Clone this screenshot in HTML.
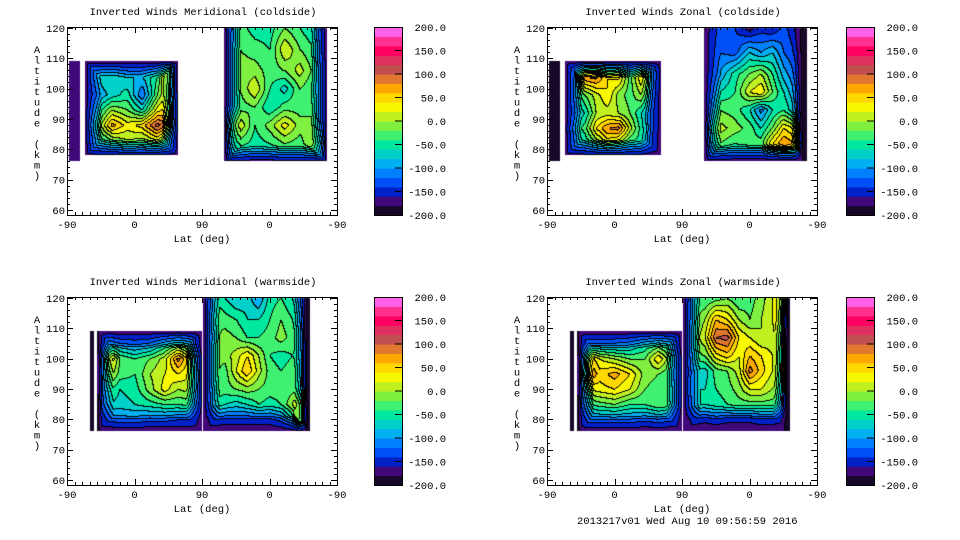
<!DOCTYPE html>
<html><head><meta charset="utf-8">
<style>
html,body{margin:0;padding:0;background:#fff;}
#root{position:relative;width:960px;height:540px;overflow:hidden;background:#fff;}
canvas{position:absolute;}
svg{position:absolute;left:0;top:0;}
text{font-family:"Liberation Mono",monospace;font-size:10.5px;fill:#000;}
</style></head>
<body>
<div id="root">
<svg id="ov" width="960" height="540"></svg>
</div>
<script>
// ---- data ----
const colorLevels = ["#180828","#400878","#0020c8","#0050f8","#0080ff","#00b0f0","#00d0c8","#00e8a0","#40f070","#80f040","#c0f020","#f8f800","#ffd800","#ffa800","#e07830","#c05050","#e03060","#ff0060","#ff3090","#ff60e8"];
const colorbarTicks = [200,150,100,50,0,-50,-100,-150,-200];
const xTickLabels = ["-90","0","90","0","-90"];
const yTickLabels = [120,110,100,90,80,70,60];

// Panel 1: Meridional coldside
const p1StripCols=[3,17], p1StripRows=[109,76];
const p1StripVals=[[-150,-150],[-150,-150]];
const p1ACols=[24,40,60,80,100,120,135,148], p1ARows=[109,104,98,93,88,83,78];
const p1AVals=[
[-80,-80,-70,-90,-90,-60,40,-120],
[-70,-70,-60,-80,-80,-40,60,-100],
[-100,-100,-70,-50,-120,-20,40,-80],
[-60,-60,0,-20,-60,30,60,-60],
[-20,-20,70,30,50,110,80,-40],
[-60,-60,-20,0,-10,20,-40,-100],
[-80,-80,-60,-40,-50,-40,-80,-120]];
const p1BCols=[210,216,230,250,270,290,310,330,340,346], p1BRows=[120,113,106,100,94,88,82,76];
const p1BVals=[
[-40,-40,-30,-50,-50,-20,-40,-60,-100,-120],
[-30,-30,-20,-30,-40,20,-20,-40,-80,-110],
[-20,-20,-10,-10,-30,-20,10,-30,-60,-100],
[-30,-30,-20,20,-40,-70,-20,-40,-50,-100],
[-10,-10,-30,-20,-60,-30,-30,-30,-60,-100],
[120,120,20,-40,-10,30,-10,-10,-40,-100],
[60,60,-30,-50,-40,-20,-30,10,60,-60],
[-60,-60,-80,-90,-90,-80,-80,-60,-40,-80]];

// Panel 2: Zonal coldside
const p2StripCols=[3,17], p2StripRows=[109,76];
const p2StripVals=[[-190,-190],[-190,-190]];
const p2ACols=[24,35,50,65,80,95,110,125,140,152], p2ARows=[109,104,98,92,87,82,78];
const p2AVals=[
[-90,-90,60,70,30,40,-40,30,-70,-120],
[-80,-80,80,90,40,50,-30,40,-60,-110],
[-70,-70,-20,10,40,-10,-30,0,-80,-120],
[-90,-90,-60,0,10,0,-20,-60,-110,-130],
[-60,-60,-30,40,80,90,10,-50,-110,-130],
[-80,-80,-60,-20,20,0,-40,-50,-120,-140],
[-100,-100,-80,-50,-30,-40,-60,-70,-130,-150]];
const p2BCols=[210,216,230,250,270,285,300,315,330,340,347], p2BRows=[120,112,105,99,93,87,82,76];
const p2BVals=[
[-150,-130,-130,-140,-170,-150,-160,-130,-160,-190,-190],
[-140,-120,-120,-130,-80,-100,-80,-120,-140,-190,-190],
[-130,-110,-100,-50,-20,0,-40,-90,-120,-190,-190],
[-100,-80,-60,-40,20,40,-20,-60,-100,-190,-190],
[-60,-30,-20,-30,-60,-110,-60,-40,-80,-190,-190],
[0,60,10,-10,-30,-60,-20,40,20,-190,-190],
[-30,20,-20,-40,-30,-30,40,80,60,-190,-190],
[-130,-120,-120,-130,-140,-140,-130,-110,-120,-180,-190]];

// Panel 3: Meridional warmside
const p3StripCols=[31,36], p3StripRows=[109,76];
const p3StripVals=[[-200,-200],[-200,-200]];
const p3ACols=[40,46,55,70,90,110,130,148,165,180], p3ARows=[109,105,100,95,90,85,80,76];
const p3AVals=[
[-200,-120,-90,-110,-120,-110,-70,-40,-70,-150],
[-200,-110,-80,-100,-110,-100,-60,-30,-60,-150],
[-200,20,60,-20,-40,-20,10,90,20,-30],
[-200,10,20,-30,-40,0,20,40,20,10],
[-200,-10,-30,-60,-50,-10,30,0,10,0],
[-200,-40,-60,-70,-60,-50,-40,-40,-30,-50],
[-200,-120,-120,-110,-110,-120,-120,-130,-130,-140],
[-200,-150,-150,-150,-150,-150,-150,-150,-150,-160]];
const p3BCols=[182,195,210,225,240,255,270,285,300,312,320,324], p3BRows=[120,113,107,101,96,90,85,80,76];
const p3BVals=[
[-60,-40,-60,-80,-70,-100,-50,-40,-60,-100,-200,-200],
[-40,-20,-30,-40,-60,-60,-40,-20,-40,-70,-200,-200],
[-40,-30,-10,-20,-40,-40,-30,-10,-30,-60,-200,-200],
[-40,-20,-10,10,40,0,-40,-50,-40,-50,-200,-200],
[-40,-10,-30,20,60,10,-30,-40,-30,-40,-200,-200],
[-40,-30,-30,-20,-10,-20,-30,-30,-30,-20,-200,-200],
[-60,-40,-60,-70,-60,-40,-50,-40,0,60,-200,-200],
[-140,-130,-140,-140,-140,-140,-140,-120,-60,80,-200,-200],
[-160,-160,-160,-160,-160,-160,-160,-150,-120,-60,-200,-200]];

// Panel 4: Zonal warmside
const p4StripCols=[31,36], p4StripRows=[109,76];
const p4StripVals=[[-200,-200],[-200,-200]];
const p4ACols=[40,46,55,70,90,110,130,148,165,180], p4ARows=[109,105,100,95,90,85,80,76];
const p4AVals=[
[-200,-130,-110,-110,-110,-100,-70,-50,-70,-150],
[-200,-120,-100,-100,-100,-90,-60,-40,-60,-140],
[-200,10,60,20,0,-20,-20,40,-20,-50],
[-200,50,90,50,70,40,-10,-20,-40,-50],
[-200,0,20,30,40,20,-20,-30,-30,-40],
[-200,-50,-40,-30,-20,-40,-40,-20,-30,-50],
[-200,-120,-110,-110,-110,-110,-120,-110,-120,-130],
[-200,-150,-150,-150,-150,-150,-150,-150,-150,-160]];
const p4BCols=[182,195,210,225,240,255,270,285,300,312,320,324], p4BRows=[120,113,107,101,96,90,85,80,76];
const p4BVals=[
[-60,-40,-40,-30,-20,-40,-30,-10,20,90,-200,-200],
[-50,-30,0,60,40,0,-20,0,20,80,-200,-200],
[-30,-20,20,100,110,40,20,0,10,40,-200,-200],
[-40,-30,-20,30,50,20,60,40,20,20,-200,-200],
[-50,-60,-70,-30,-20,10,90,50,20,10,-200,-200],
[-30,-60,-60,-40,-30,-10,20,20,0,-10,-200,-200],
[-60,-60,-60,-50,-40,-30,-30,-30,-30,-40,-200,-200],
[-150,-140,-150,-140,-150,-150,-150,-140,-140,-150,-200,-200],
[-170,-160,-160,-160,-160,-160,-160,-160,-160,-160,-200,-200]];

// ---- layout ----
const NS="http://www.w3.org/2000/svg";
const ov=document.getElementById('ov');
const root=document.getElementById('root');
const panels=[
 {name:"meridional-coldside",title:"Inverted Winds Meridional (coldside)",x:67,y:27,w:270,h:188,cbx:374,
  blocks:[[p1StripCols,p1StripRows,p1StripVals],[p1ACols,p1ARows,p1AVals],[p1BCols,p1BRows,p1BVals]]},
 {name:"zonal-coldside",title:"Inverted Winds Zonal (coldside)",x:547,y:27,w:270,h:188,cbx:846,
  blocks:[[p2StripCols,p2StripRows,p2StripVals],[p2ACols,p2ARows,p2AVals],[p2BCols,p2BRows,p2BVals]]},
 {name:"meridional-warmside",title:"Inverted Winds Meridional (warmside)",x:67,y:297,w:270,h:188,cbx:374,
  blocks:[[p3StripCols,p3StripRows,p3StripVals],[p3ACols,p3ARows,p3AVals],[p3BCols,p3BRows,p3BVals]]},
 {name:"zonal-warmside",title:"Inverted Winds Zonal (warmside)",x:547,y:297,w:270,h:188,cbx:846,
  blocks:[[p4StripCols,p4StripRows,p4StripVals],[p4ACols,p4ARows,p4AVals],[p4BCols,p4BRows,p4BVals]]}
];
const YMIN=58.3, YMAX=120.3, FALL=16;

function mk(tag,attrs,parent){const e=document.createElementNS(NS,tag);for(const k in attrs)e.setAttribute(k,attrs[k]);(parent||ov).appendChild(e);return e;}
function hex(c){return [parseInt(c.slice(1,3),16),parseInt(c.slice(3,5),16),parseInt(c.slice(5,7),16)];}
const rgb=colorLevels.map(hex);
function levelOf(v){return Math.max(0,Math.min(19,Math.floor((v+200)/20)));}
function interp(cols,rows,vals,u,a){
  let i=0;while(i<cols.length-2&&u>cols[i+1])i++;
  let j=0;while(j<rows.length-2&&a<rows[j+1])j++;
  const tx=Math.max(0,Math.min(1,(u-cols[i])/(cols[i+1]-cols[i]))), ty=Math.max(0,Math.min(1,(rows[j]-a)/(rows[j]-rows[j+1])));
  const v00=vals[j][i],v01=vals[j][i+1],v10=vals[j+1][i],v11=vals[j+1][i+1];
  return (v00*(1-tx)+v01*tx)*(1-ty)+(v10*(1-tx)+v11*tx)*ty;
}

panels.forEach(p=>{
  const xs=u=>p.x+u/360*p.w, ys=a=>p.y+(YMAX-a)/(YMAX-YMIN)*p.h;
  const cv=document.createElement('canvas');cv.width=p.w;cv.height=p.h;
  cv.style.left=p.x+'px';cv.style.top=p.y+'px';
  
  
  root.insertBefore(cv,ov);
  const ctx=cv.getContext('2d');const img=ctx.createImageData(p.w,p.h);
  const lv=new Int8Array(p.w*p.h).fill(-1);
  const pxU=p.w/360, pxA=p.h/(YMAX-YMIN);
  for(let py=0;py<p.h;py++)for(let px=0;px<p.w;px++){
    const u=(px+0.5)/p.w*360, a=YMAX-(py+0.5)/p.h*(YMAX-YMIN);
    for(const b of p.blocks){const c=b[0],r=b[1];
      const u0=c[0],u1=c[c.length-1],aT=r[0],aB=r[r.length-1];
      if(u>=u0&&u<=u1&&a<=aT&&a>=aB){
        let v=interp(c,r,b[2],u,a);
        let dx=Math.min((u-u0)*pxU,(u1-u)*pxU);
        let dy=(a-aB)*pxA;
        if(aT<120)dy=Math.min(dy,(aT-a)*pxA);
        const fx=Math.max(0,Math.min(1,dx/FALL)), fy=Math.max(0,Math.min(1,dy/FALL));
        const f=Math.min(fx,fy)*Math.max(0.3,Math.min(1,Math.hypot(1-fx,1-fy)<1?1:1/Math.hypot(1-fx,1-fy)));
        const E=Math.min(-170,v);
        v=E+(v-E)*f;
        lv[py*p.w+px]=levelOf(v);break;}}
  }
  for(let py=0;py<p.h;py++)for(let px=0;px<p.w;px++){
    const k=py*p.w+px,l=lv[k],o=k*4;
    if(l<0){img.data[o]=255;img.data[o+1]=255;img.data[o+2]=255;img.data[o+3]=255;continue;}
    let edge=(px>0&&lv[k-1]>=0&&lv[k-1]!==l)||(py>0&&lv[k-p.w]>=0&&lv[k-p.w]!==l);
    const c=edge?[0,0,0]:rgb[l];
    img.data[o]=c[0];img.data[o+1]=c[1];img.data[o+2]=c[2];img.data[o+3]=255;
  }
  ctx.putImageData(img,0,0);
  const g=mk('g',{});
  mk('rect',{x:p.x+0.5,y:p.y+0.5,width:p.w,height:p.h,fill:'none',stroke:'#000','stroke-width':1},g);
  for(let u=0;u<=360;u+=10){const X=Math.round(xs(u))+0.5,L=(u%90===0)?6:3;
    mk('line',{x1:X,x2:X,y1:p.y+p.h,y2:p.y+p.h-L,stroke:'#000'},g);
    mk('line',{x1:X,x2:X,y1:p.y,y2:p.y+L,stroke:'#000'},g);}
  xTickLabels.forEach((t,i)=>{const e=mk('text',{x:xs(i*90),y:p.y+p.h+13,'text-anchor':'middle'},g);e.textContent=t;
    });
  for(let a=60;a<=120;a+=2){const Y=Math.round(ys(a))+0.5,L=(a%10===0)?6:3;
    mk('line',{x1:p.x,x2:p.x+L,y1:Y,y2:Y,stroke:'#000'},g);
    mk('line',{x1:p.x+p.w,x2:p.x+p.w-L,y1:Y,y2:Y,stroke:'#000'},g);}
  yTickLabels.forEach(t=>{const e=mk('text',{x:p.x-2,y:ys(t)+4,'text-anchor':'end'},g);e.textContent=t;
    });
  const tt=mk('text',{x:p.x+p.w/2+1,y:p.y-12,'text-anchor':'middle'},g);tt.textContent=p.title;
  
  const xl=mk('text',{x:p.x+p.w/2,y:p.y+p.h+27,'text-anchor':'middle'},g);xl.textContent="Lat (deg)";
  
  const yt=mk('text',{x:p.x-30,y:p.y+22,'text-anchor':'middle'},g);
  
  "Altitude (km)".split('').forEach((ch,i)=>{const s=mk('tspan',{x:p.x-30,y:p.y+26+i*10.5},yt);s.textContent=ch;});
  const cb=mk('g',{});
  const bh=p.h/20;
  colorLevels.forEach((c,i)=>{const r=mk('rect',{x:p.cbx,y:p.y+p.h-(i+1)*bh,width:28,height:bh+0.6,fill:c},cb);
    });
  mk('rect',{x:p.cbx+0.5,y:p.y+0.5,width:28,height:p.h,fill:'none',stroke:'#000'},cb);
  colorbarTicks.forEach(t=>{const Y=p.y+(200-t)/400*p.h;
    if(t!==200&&t!==-200)mk('line',{x1:p.cbx+21,x2:p.cbx+28,y1:Y,y2:Y,stroke:'#000'},cb);
    const e=mk('text',{x:p.cbx+72,y:Y+4,'text-anchor':'end'},cb);e.textContent=t.toFixed(1);
    });
});
const ft=mk('text',{x:577,y:524});ft.textContent="2013217v01 Wed Aug 10 09:56:59 2016";

</script>
</body></html>
